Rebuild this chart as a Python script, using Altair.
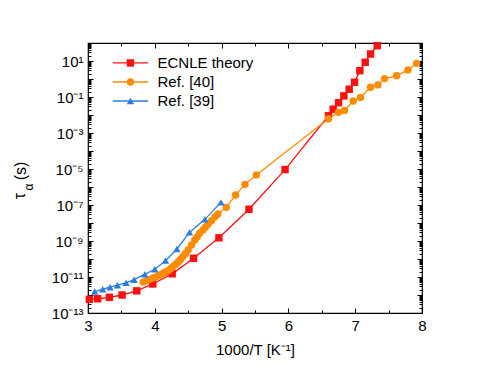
import altair as alt
import pandas as pd

# ---------------- data ----------------
ecnle_x = [3.02, 3.145, 3.32, 3.51, 3.73, 3.97, 4.26, 4.58, 4.96, 5.41, 5.95,
           6.60, 6.67, 6.75, 6.83, 6.91, 6.99, 7.07, 7.15, 7.23, 7.33]
ecnle_tau = [5.75e-13, 6.2e-13, 7.4e-13, 1.0e-12, 1.7e-12, 4.1e-12, 1.5e-11, 1.1e-10,
             1.5e-9, 5.8e-8, 9.3e-6, 9.1e-3, 2.1e-2, 4.8e-2, 0.115, 0.27, 0.66,
             2.9, 8.5, 24.5, 71.0]

ref40_x = [3.825, 3.875, 3.925, 3.975, 4.025, 4.075, 4.124, 4.16, 4.20, 4.235, 4.27,
           4.31, 4.35, 4.385, 4.42, 4.46, 4.50, 4.55, 4.60, 4.635, 4.67, 4.72, 4.76,
           4.80, 4.85, 4.90, 4.945, 5.07, 5.21, 5.35, 5.52, 6.60, 6.75, 6.84, 6.97,
           7.08, 7.23, 7.34, 7.44, 7.62, 7.79, 7.92]
ref40_tau = [5.2e-12, 6.3e-12, 7.4e-12, 8.9e-12, 1.05e-11, 1.3e-11, 1.6e-11, 1.9e-11,
             2.2e-11, 2.9e-11, 3.7e-11, 5.0e-11, 6.8e-11, 9.5e-11, 1.35e-10, 2.0e-10,
             3.2e-10, 6.0e-10, 1.15e-9, 1.7e-9, 2.7e-9, 4.1e-9, 6.0e-9, 8.7e-9,
             1.35e-8, 2.2e-8, 3.2e-8, 7.4e-8, 3.6e-7, 1.4e-6, 4.7e-6, 6.2e-3, 1.4e-2,
             1.8e-2, 6.0e-2, 9.5e-2, 0.35, 0.47, 1.05, 1.5, 3.2, 7.4]

ref39_x = [3.10, 3.22, 3.33, 3.44, 3.57, 3.69, 3.85, 4.00, 4.16, 4.33, 4.52, 4.75, 4.99]
ref39_tau = [1.55e-12, 2.1e-12, 2.7e-12, 3.5e-12, 4.7e-12, 7.1e-12, 1.4e-11, 2.7e-11,
             8.1e-11, 3.6e-10, 3.0e-9, 1.6e-8, 1.4e-7]

series_names = ["ECNLE theory", "Ref. [40]", "Ref. [39]"]
series_colors = ["#ff1010", "#ff8c00", "#2a7de1"]
series_shapes = ["square", "circle", "triangle-up"]

x_major = [3, 4, 5, 6, 7, 8]
x_minor = [3.5, 4.5, 5.5, 6.5, 7.5]
y_labelled = [1e-13, 1e-11, 1e-9, 1e-7, 1e-5, 1e-3, 1e-1, 1e1]
y_major = [10.0 ** e for e in range(-13, 3)]
y_minor = [m * 10.0 ** e for e in range(-13, 2) for m in range(2, 10)]

# ---------------- build table ----------------
rows = []
for name, xs_, ts_ in zip(series_names, [ecnle_x, ref40_x, ref39_x],
                          [ecnle_tau, ref40_tau, ref39_tau]):
    for i, (a, b) in enumerate(zip(xs_, ts_)):
        rows.append({"x": a, "tau": b, "series": name, "i": i})
df = pd.DataFrame(rows)

W, H = 334, 270
FONT = "Liberation Sans"
xs = alt.Scale(domain=[3, 8], nice=False, zero=False)
ys = alt.Scale(type="log", domain=[1e-13, 1e2], nice=False)
col = alt.Scale(domain=series_names, range=series_colors)
shp = alt.Scale(domain=series_names, range=series_shapes)

sup = "['\u2070','\u00b9','\u00b2','\u00b3','\u2074','\u2075','\u2076','\u2077','\u2078','\u2079']"
e = "round(log(datum.value)/LN10)"
label_expr = (f"'10' + ({e} < 0 ? '\u207b' : '') + (abs({e}) >= 10 ? {sup}[floor(abs({e})/10)] : '')"
              f" + {sup}[abs({e}) % 10]")

main_x_axis = alt.Axis(orient="bottom", values=x_major, format="d", ticks=False, domain=False,
                       grid=False, labelFontSize=15, labelFont=FONT, labelColor="black",
                       labelPadding=5, labelFlush=False, title="1000/T [K\u207b\u00b9]",
                       titleFont=FONT, titleFontSize=15, titleFontWeight="normal",
                       titleColor="black", titlePadding=9)
main_y_axis = alt.Axis(orient="left", values=y_labelled, labelExpr=label_expr, ticks=False,
                       domain=False, grid=False, labelFontSize=15, labelFont=FONT,
                       labelColor="black", labelPadding=5, labelFlush=False, title=None)

lines = alt.Chart(df).mark_line(strokeWidth=1.3).encode(
    x=alt.X("x:Q", scale=xs, axis=main_x_axis),
    y=alt.Y("tau:Q", scale=ys, axis=main_y_axis),
    color=alt.Color("series:N", scale=col, legend=None),
    order="i:Q",
)
points = alt.Chart(df).mark_point(filled=True, opacity=1, size=55).encode(
    x=alt.X("x:Q", scale=xs, axis=None),
    y=alt.Y("tau:Q", scale=ys, axis=None),
    color=alt.Color("series:N", scale=col, legend=None),
    shape=alt.Shape("series:N", scale=shp, legend=None),
)


def tick_layer(x_orient, x_vals, x_size, y_orient, y_vals, y_size):
    ax = alt.Axis(orient=x_orient, offset=-H, values=x_vals, labels=False, ticks=True,
                  tickSize=x_size, tickColor="black", tickWidth=1, domain=False, grid=False,
                  title=None)
    ay = alt.Axis(orient=y_orient, offset=-W, values=y_vals, labels=False, ticks=True,
                  tickSize=y_size, tickColor="black", tickWidth=1, domain=False, grid=False,
                  title=None)
    return alt.Chart(df).mark_point(opacity=0).encode(
        x=alt.X("x:Q", scale=xs, axis=ax),
        y=alt.Y("tau:Q", scale=ys, axis=ay),
    )


t1 = tick_layer("top", x_major, 5, "right", y_major, 5)
t2 = tick_layer("top", x_minor, 3, "right", y_minor, 3)
t3 = tick_layer("bottom", x_major, 5, "left", y_major, 5)
t4 = tick_layer("bottom", x_minor, 3, "left", y_minor, 3)

# ---------------- legend (inside, top-left) ----------------
leg = pd.DataFrame({
    "series": series_names,
    "y": [7.8, 0.68, 0.06],
})
leg["x0"] = 3.37
leg["x1"] = 3.90
leg["xm"] = 3.635
leg["xt"] = 4.04
leg_line = alt.Chart(leg).mark_rule(strokeWidth=1.3).encode(
    x=alt.X("x0:Q", scale=xs, axis=None), x2="x1:Q",
    y=alt.Y("y:Q", scale=ys, axis=None),
    color=alt.Color("series:N", scale=col, legend=None),
)
leg_pt = alt.Chart(leg).mark_point(filled=True, opacity=1, size=55).encode(
    x=alt.X("xm:Q", scale=xs, axis=None),
    y=alt.Y("y:Q", scale=ys, axis=None),
    color=alt.Color("series:N", scale=col, legend=None),
    shape=alt.Shape("series:N", scale=shp, legend=None),
)
leg_txt = alt.Chart(leg).mark_text(align="left", baseline="middle", fontSize=15, font=FONT,
                                   color="black").encode(
    x=alt.X("xt:Q", scale=xs, axis=None),
    y=alt.Y("y:Q", scale=ys, axis=None),
    text="series:N",
)

# ---------------- y title ----------------
yt1 = alt.Chart(pd.DataFrame({"t": ["\u03c4"]})).mark_text(
    angle=270, fontSize=16, font=FONT, color="black", baseline="middle", align="center"
).encode(text="t:N", x=alt.value(-68), y=alt.value(153))
yt2 = alt.Chart(pd.DataFrame({"t": ["\u03b1"]})).mark_text(
    angle=270, fontSize=12, font=FONT, color="black", baseline="middle", align="center"
).encode(text="t:N", x=alt.value(-59), y=alt.value(144))
yt3 = alt.Chart(pd.DataFrame({"t": ["(s)"]})).mark_text(
    angle=270, fontSize=16, font=FONT, color="black", baseline="middle", align="center"
).encode(text="t:N", x=alt.value(-67), y=alt.value(128))

chart = alt.layer(
    lines, points, t1, t2, t3, t4, leg_line, leg_pt, leg_txt, yt1, yt2, yt3
).resolve_axis(x="independent", y="independent").properties(
    width=W, height=H,
    autosize=alt.AutoSizeParams(type="none"),
    padding={"left": 80, "top": 35, "right": 55, "bottom": 50},
).configure_view(stroke="black", strokeWidth=1.2).configure_axis(grid=False)

chart.save("out.html", embed_options={"renderer": "svg", "actions": False})
